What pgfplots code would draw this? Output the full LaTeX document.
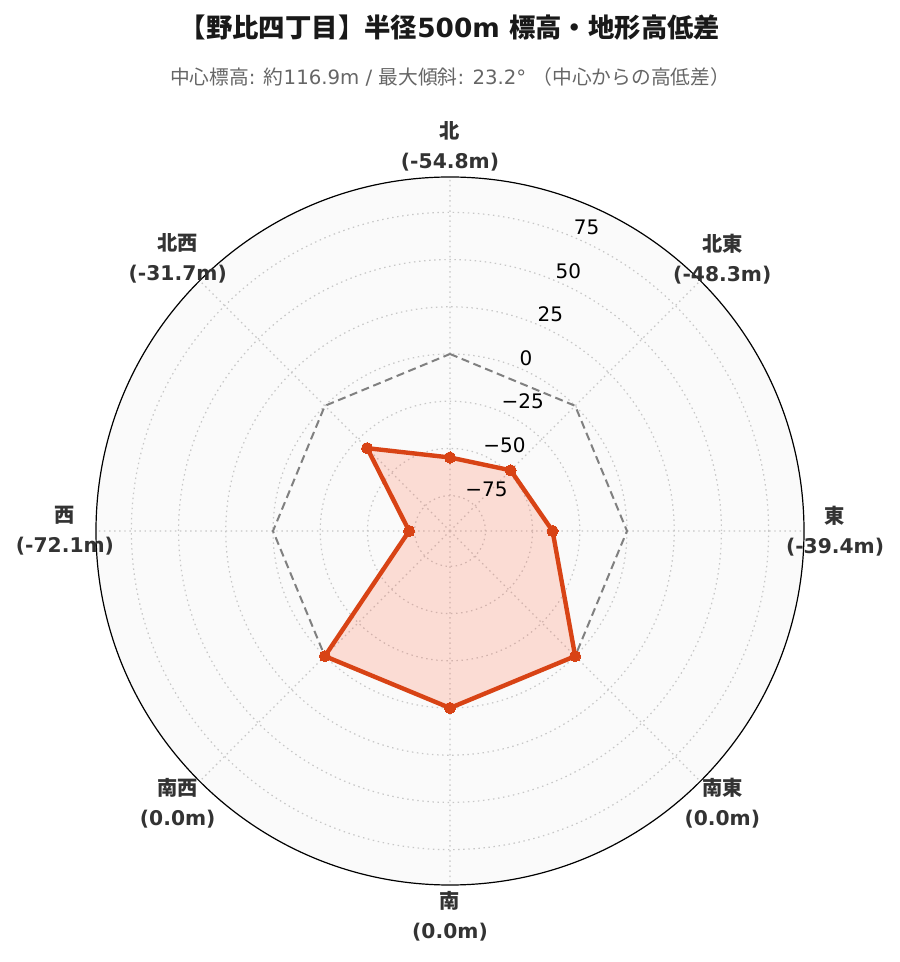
\documentclass[border=0pt]{standalone}
\usepackage{fontspec}
\setmainfont{DejaVu Sans}
\newfontfamily\cjk{Noto Sans CJK JP}
\usepackage{pgfplots}
\usepackage{pgfplotstable}
\usepgfplotslibrary{polar}
\pgfplotsset{compat=1.18}
\definecolor{bgc}{RGB}{250,250,250}
\definecolor{redl}{HTML}{D84315}
\definecolor{redf}{HTML}{FF6440}
\definecolor{lab}{HTML}{333333}
\definecolor{sub}{HTML}{666666}
\pgfplotstableread{
ang v
90 -54.8
45 -48.3
0 -39.4
315 0.0
270 0.0
225 0.0
180 -72.1
135 -31.7
90 -54.8
}\dirdata
\pgfplotstableread{
ang v
90 0
45 0
0 0
315 0
270 0
225 0
180 0
135 0
90 0
}\zerodata
\begin{document}
\begin{tikzpicture}
\useasboundingbox (0,0) rectangle (674.25pt,721.5pt);
\begin{polaraxis}[
  at={(337.5pt,323.25pt)}, anchor=origin,
  scale only axis, width=531pt, height=531pt,
  xmin=0, xmax=360, ymin=0, ymax=187.46,
  xtick={0,45,...,315}, xticklabels={},
  ytick={18.73,43.73,68.73,93.73,118.73,143.73,168.73}, yticklabels={},
  major tick length=0pt,
  grid=major,
  major grid style={dash pattern=on 1.1pt off 2.7pt, color=black!22, line width=0.9pt},
  axis line style={black, line width=0.9pt},
  y axis line style={draw=none},
  axis background/.style={fill=bgc},
  clip=false,
]
\addplot[color=black!50, dash pattern=on 6pt off 3.5pt, line width=1.5pt, mark=none] table[x=ang, y expr=\thisrow{v}+93.73] {\zerodata};
\addplot[draw=redl, fill=redf, fill opacity=0.2, line width=3.3pt, line join=round, mark=*, mark size=4.2pt, mark options={fill=redl, draw=redl, fill opacity=1, line width=0pt}] table[x=ang, y expr=\thisrow{v}+93.73] {\dirdata};
\foreach \v/\t in {75/75, 50/50, 25/25, 0/0, -25/−25, -50/−50, -75/−75} {
  \edef\tmp{\noexpand\node[anchor=south west, inner sep=1.2pt, font=\noexpand\fontsize{15}{17}\noexpand\selectfont, text=black] at (axis cs:67.5,{\v+93.73}) {\t};}
  \tmp
}
\tikzset{dl/.style={align=center, font=\bfseries\fontsize{15.2}{22.5}\selectfont, text=lab}}
\node[dl] at (axis cs:90,203.9) {{\cjk 北}\\(-54.8m)};
\node[dl] at (axis cs:45,203.9) {{\cjk 北東}\\(-48.3m)};
\node[dl] at (axis cs:0,203.9) {{\cjk 東}\\(-39.4m)};
\node[dl] at (axis cs:315,203.9) {{\cjk 南東}\\(0.0m)};
\node[dl] at (axis cs:270,203.9) {{\cjk 南}\\(0.0m)};
\node[dl] at (axis cs:225,203.9) {{\cjk 南西}\\(0.0m)};
\node[dl] at (axis cs:180,203.9) {{\cjk 西}\\(-72.1m)};
\node[dl] at (axis cs:135,203.9) {{\cjk 北西}\\(-31.7m)};
\end{polaraxis}
\node[font=\bfseries\fontsize{19.8}{24}\selectfont, text=black!90] at (337.5pt,700.5pt) {{\cjk 【野比四丁目】半径}500m {\cjk 標高・地形高低差}};
\node[font=\fontsize{14.8}{17}\selectfont, text=sub] at (337.5pt,663.75pt) {{\cjk 中心標高}: {\cjk 約}116.9m / {\cjk 最大傾斜}: 23.2° {\cjk （中心からの高低差）}};
\end{tikzpicture}
\end{document}
